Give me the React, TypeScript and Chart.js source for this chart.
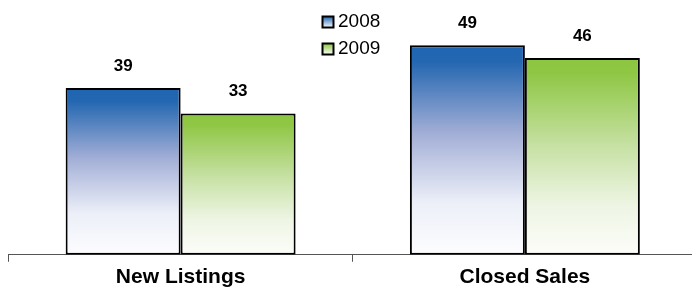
import React, { useEffect, useRef } from "react";
import { Chart, registerables } from "chart.js";

Chart.register(...registerables);

const categories = ["New Listings", "Closed Sales"];
const seriesNames = ["2008", "2009"];
const values2008 = [39, 49];
const values2009 = [33, 46];

const BLUE_STOPS: [number, string][] = [
  [0, "#1e65b1"],
  [0.08, "#2467b1"],
  [0.42, "#a2aed6"],
  [0.75, "#eceff8"],
  [1, "#fdfdff"],
];
const GREEN_STOPS: [number, string][] = [
  [0, "#8cc63f"],
  [0.08, "#8fc745"],
  [0.45, "#c7e1a4"],
  [0.75, "#eef5e4"],
  [1, "#fcfdf9"],
];

function barGradient(ctx: any, top: number, bottom: number, stops: [number, string][]) {
  const g = ctx.createLinearGradient(0, top, 0, bottom);
  stops.forEach(([p, c]) => g.addColorStop(p, c));
  return g;
}

const FONT = "'Liberation Sans', Arial, sans-serif";

export default function App() {
  const ref = useRef<HTMLCanvasElement>(null);
  useEffect(() => {
    if (!ref.current) return;
    const makeBg = (stops: [number, string][]) => (context: any) => {
      const chart = context.chart;
      const { ctx, chartArea, scales } = chart;
      if (!chartArea || context.type !== "data") return stops[0][1];
      const v = context.raw as number;
      const top = scales.y.getPixelForValue(v);
      const bottom = scales.y.getPixelForValue(0);
      return barGradient(ctx, top, bottom, stops);
    };

    const labelPlugin = {
      id: "labelsAndLegend",
      afterDatasetsDraw(chart: any) {
        const { ctx } = chart;
        ctx.save();
        ctx.fillStyle = "#000";
        ctx.font = `bold 17px ${FONT}`;
        ctx.textAlign = "center";
        ctx.textBaseline = "middle";
        chart.data.datasets.forEach((ds: any, i: number) => {
          const meta = chart.getDatasetMeta(i);
          meta.data.forEach((bar: any, j: number) => {
            ctx.fillText(String(ds.data[j]), bar.x, bar.y - 22);
          });
        });
        // legend
        const items = [
          { name: seriesNames[0], stops: BLUE_STOPS },
          { name: seriesNames[1], stops: GREEN_STOPS },
        ];
        ctx.font = `19px ${FONT}`;
        ctx.textAlign = "left";
        items.forEach((it, k) => {
          const y = 22 + k * 27;
          const bx = 322.5, by = y - 5.5, s = 11;
          const g = ctx.createLinearGradient(0, by, 0, by + s);
          g.addColorStop(0, it.stops[0][1]);
          g.addColorStop(1, it.stops[it.stops.length - 1][1]);
          ctx.fillStyle = g;
          ctx.fillRect(bx, by, s, s);
          ctx.strokeStyle = "#000";
          ctx.lineWidth = 2;
          ctx.strokeRect(bx, by, s, s);
          ctx.fillStyle = "#000";
          ctx.fillText(it.name, 338, y);
        });
        ctx.restore();
      },
    };

    const chart = new Chart(ref.current, {
      type: "bar",
      data: {
        labels: categories,
        datasets: [
          {
            label: seriesNames[0],
            data: values2008,
            backgroundColor: makeBg(BLUE_STOPS),
            borderColor: "#000",
            borderWidth: 2,
            borderSkipped: false,
          },
          {
            label: seriesNames[1],
            data: values2009,
            backgroundColor: makeBg(GREEN_STOPS),
            borderColor: "#000",
            borderWidth: 2,
            borderSkipped: false,
          },
        ],
      },
      options: {
        responsive: false,
        animation: false,
        layout: { padding: { left: 8.5, right: 0, top: 19.5, bottom: 0 } },
        plugins: { legend: { display: false }, tooltip: { enabled: false } },
        datasets: { bar: { barPercentage: 1, categoryPercentage: 0.668 } },
        scales: {
          x: {
            offset: true,
            grid: {
              offset: true,
              drawOnChartArea: false,
              drawTicks: true,
              tickLength: 7,
              color: "#555",
              lineWidth: 1,
            },
            border: { display: true, color: "#555", width: 1 },
            ticks: {
              color: "#000",
              padding: 2.5,
              font: { family: FONT, size: 21, weight: "bold" },
            },
          },
          y: {
            display: false,
            min: 0,
            max: 55,
          },
        },
      },
      plugins: [labelPlugin],
    });
    return () => chart.destroy();
  }, []);

  return (
    <div style={{ position: "fixed", left: 0, top: 0, width: 692, height: 292, overflow: "hidden", background: "#fff" }}>
      <canvas ref={ref} width={697} height={292} style={{ display: "block" }} />
    </div>
  );
}
